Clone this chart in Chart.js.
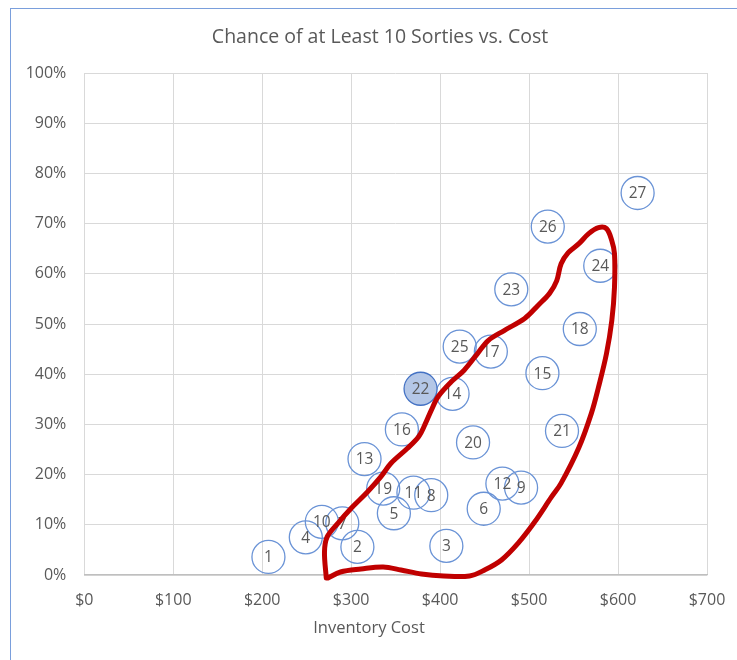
<!DOCTYPE html>
<html>
<head>
<meta charset="utf-8">
<script src="https://cdn.jsdelivr.net/npm/chart.js@4.4.1/dist/chart.umd.min.js"></script>
<style>
  html, body { margin: 0; padding: 0; background: #fff; }
  #wrap { position: relative; width: 737px; height: 660px; overflow: hidden; }
  #frame { position: absolute; left: 10px; top: 8px; width: 800px; height: 700px;
           border-left: 1.5px solid #7a9fdc; border-top: 1.5px solid #7a9fdc; }
  canvas { position: absolute; left: 0; top: 0; }
</style>
</head>
<body>
<div id="wrap">
  <div id="frame"></div>
  <canvas id="chart" width="737" height="660"></canvas>
</div>
<script>
// --- data ---
const optionIds = ['1','2','3','4','5','6','7','8','9','10','11','12','13','14','15','16','17','18','19','20','21','22','23','24','25','26','27'];
const inventoryCost = [207, 307, 407, 249, 348, 449, 290, 390, 491, 267, 370, 470, 315, 414, 515, 357, 457, 557, 336, 437, 537, 378, 480, 580, 422, 521, 622];
const chanceTen = [3.6, 5.6, 5.8, 7.5, 12.3, 13.2, 10.3, 15.9, 17.4, 10.6, 16.4, 18.2, 23.1, 36.1, 40.2, 29.0, 44.5, 49.0, 17.2, 26.4, 28.7, 37.1, 56.9, 61.6, 45.5, 69.4, 76.1];
const highlightId = '22';

// hand-drawn red loop, in data units (cost, %)
const loopCost = [272, 270, 273, 285, 300, 318, 333, 345, 363, 376, 383, 390, 398, 412, 427, 442, 454, 472, 495, 510, 523, 531, 536, 544, 556, 567, 578, 587, 593, 596, 596, 593, 587, 578, 570, 556, 536, 525, 506, 488, 469, 450, 433, 404, 379, 356, 336, 311, 288, 274];
const loopChance = [-0.6, 4.6, 7.6, 10.3, 13.3, 16.5, 19.5, 22.3, 25.2, 27.6, 30.0, 32.8, 35.6, 38.4, 40.8, 44.1, 46.7, 48.7, 51.1, 53.7, 56.1, 58.6, 62.0, 64.2, 66.0, 68.0, 69.2, 69.0, 66.6, 64.0, 57.3, 50.7, 44.1, 37.4, 32.2, 25.4, 18.3, 15.5, 10.5, 6.4, 3.0, 1.0, -0.2, -0.2, 0.2, 1.0, 1.6, 1.2, 0.6, -0.6];

const xTicks = [0, 100, 200, 300, 400, 500, 600, 700];
const yTicks = [0, 10, 20, 30, 40, 50, 60, 70, 80, 90, 100];

const FONT = "'Open Sans', sans-serif";
const GREY = '#595959';

const points = inventoryCost.map((c, i) => ({ x: c, y: chanceTen[i] }));
const loop = loopCost.map((c, i) => ({ x: c, y: loopChance[i] }));

// number inside each circle
const bubbleLabels = {
  id: 'bubbleLabels',
  afterDatasetDraw(chart, args) {
    if (args.index !== 1) return;
    const ctx = chart.ctx;
    ctx.save();
    ctx.fillStyle = GREY;
    ctx.font = '15.5px ' + FONT;
    ctx.textAlign = 'center';
    ctx.textBaseline = 'middle';
    args.meta.data.forEach((pt, i) => {
      ctx.fillText(optionIds[i], pt.x, pt.y + 1);
    });
    ctx.restore();
  }
};

// chart title and x axis title, placed like the original
const titles = {
  id: 'titles',
  afterDraw(chart) {
    const ctx = chart.ctx;
    ctx.save();
    ctx.fillStyle = GREY;
    ctx.textAlign = 'center';
    ctx.textBaseline = 'middle';
    ctx.font = '19.5px ' + FONT;
    ctx.fillText('Chance of at Least 10 Sorties vs. Cost', 380, 37);
    ctx.font = '16.5px ' + FONT;
    ctx.fillText('Inventory Cost', 369, 628);
    ctx.restore();
  }
};

new Chart(document.getElementById('chart'), {
  type: 'scatter',
  data: {
    datasets: [{
      label: 'loop',
      data: loop,
      showLine: true,
      borderColor: '#c00000',
      borderWidth: 5,
      borderCapStyle: 'round',
      borderJoinStyle: 'round',
      tension: 0.35,
      pointRadius: 0,
      fill: false,
      clip: false
    }, {
      label: 'options',
      data: points,
      pointRadius: 16.5,
      pointHoverRadius: 16.5,
      borderWidth: 1.3,
      borderColor: '#6a93d6',
      backgroundColor: optionIds.map(id => id === highlightId ? '#b4c7e7' : 'rgba(255,255,255,0)'),
      pointBorderColor: optionIds.map(id => id === highlightId ? '#4472c4' : '#6a93d6'),
      clip: false
    }]
  },
  options: {
    responsive: false,
    animation: false,
    layout: { padding: { top: 73, left: 10, right: 30, bottom: 0 } },
    plugins: { legend: { display: false }, tooltip: { enabled: false }, title: { display: false } },
    scales: {
      x: {
        type: 'linear', min: 0, max: 700,
        afterBuildTicks: s => { s.ticks = xTicks.map(v => ({ value: v })); },
        afterFit: s => { s.height = 85; s.paddingLeft = 0; s.paddingRight = 0; },
        grid: { color: '#d9d9d9', lineWidth: 1, drawTicks: false },
        border: { color: '#bfbfbf', width: 1.3 },
        ticks: { color: GREY, font: { family: FONT, size: 16 }, padding: 16,
                 callback: v => '$' + v }
      },
      y: {
        type: 'linear', min: 0, max: 100,
        afterBuildTicks: s => { s.ticks = yTicks.map(v => ({ value: v })); },
        afterFit: s => { s.width = 74.3; s.paddingTop = 0; s.paddingBottom = 0; },
        grid: { color: '#d9d9d9', lineWidth: 1, drawTicks: false },
        border: { display: false },
        ticks: { color: GREY, font: { family: FONT, size: 16 }, padding: 18,
                 callback: v => v + '%' }
      }
    }
  },
  plugins: [bubbleLabels, titles]
});
</script>
</body>
</html>
